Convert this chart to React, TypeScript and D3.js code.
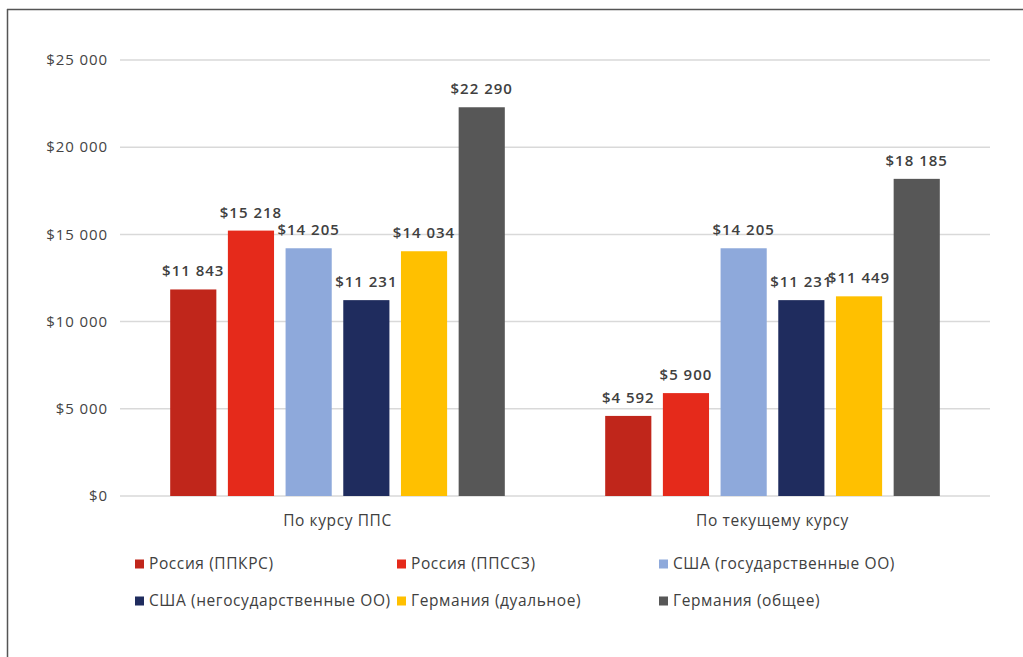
import React from "react";
import * as d3 from "d3";

const categories = ["По курсу ППС", "По текущему курсу"];
const seriesNames = [
  "Россия (ППКРС)",
  "Россия (ППССЗ)",
  "США (государственные ОО)",
  "США (негосударственные ОО)",
  "Германия (дуальное)",
  "Германия (общее)",
];
const seriesColors = ["#C0261B", "#E52A1B", "#8EA9DB", "#1F2C5E", "#FFC000", "#575757"];
const valuesPPP = [11843, 15218, 14205, 11231, 14034, 22290];
const valuesCurrent = [4592, 5900, 14205, 11231, 11449, 18185];
const yTicks = [0, 5000, 10000, 15000, 20000, 25000];

const W = 1023;
const H = 657;
const M = { left: 120, right: 990, top: 60, bottom: 496 };

const fmt = (v: number) => {
  const s = String(v);
  const parts: string[] = [];
  let rest = s;
  while (rest.length > 3) {
    parts.unshift(rest.slice(-3));
    rest = rest.slice(0, -3);
  }
  parts.unshift(rest);
  return "$" + parts.join(" ");
};

export default function App() {
  const y = d3.scaleLinear().domain([0, 25000]).range([M.bottom, M.top]);
  const x0 = d3.scaleBand<string>().domain(categories).range([M.left, M.right]).padding(0);
  const x1 = d3
    .scaleBand<string>()
    .domain(seriesNames)
    .range([0, x0.bandwidth()])
    .paddingInner(0.2)
    .paddingOuter(0.87);
  const data = [valuesPPP, valuesCurrent];
  const font = "'Open Sans', sans-serif";
  const legendCols = [135, 397, 659];
  const legendRows = [564, 601];

  return (
    <svg
      width={W}
      height={H}
      style={{ position: "absolute", left: 0, top: 0, background: "#fff" }}
      fontFamily={font}
    >
      <rect x={0} y={0} width={W} height={H} fill="#fff" />
      <line x1={7} y1={9.5} x2={W} y2={9.5} stroke="#555" strokeWidth={1.5} />
      <line x1={7.5} y1={9} x2={7.5} y2={H} stroke="#555" strokeWidth={1.5} />
      {yTicks.map((t) => (
        <g key={t}>
          <line x1={M.left} x2={M.right} y1={y(t)} y2={y(t)} stroke="#D9D9D9" strokeWidth={1.5} />
          <text
            x={108}
            y={y(t)}
            dy="0.35em"
            textAnchor="end"
            fontSize={15}
            fill="#444"
            letterSpacing={0.9}
          >
            {fmt(t)}
          </text>
        </g>
      ))}
      {categories.map((c, ci) => (
        <g key={c} transform={`translate(${x0(c)},0)`}>
          {seriesNames.map((s, si) => {
            const v = data[ci][si];
            const bx = x1(s)!;
            const bw = x1.bandwidth();
            return (
              <g key={s}>
                <rect x={bx} y={y(v)} width={bw} height={y(0) - y(v)} fill={seriesColors[si]} />
                <text
                  x={bx + bw / 2}
                  y={y(v) - 13}
                  textAnchor="middle"
                  fontSize={15}
                  fontWeight={600}
                  fill="#404040"
                  letterSpacing={1}
                >
                  {fmt(v)}
                </text>
              </g>
            );
          })}
          <text
            x={x0.bandwidth() / 2}
            y={521}
            dy="0.35em"
            textAnchor="middle"
            fontSize={15.5}
            fill="#404040"
            letterSpacing={0.6}
          >
            {c}
          </text>
        </g>
      ))}
      {seriesNames.map((s, i) => {
        const cx = legendCols[i % 3];
        const cy = legendRows[Math.floor(i / 3)];
        return (
          <g key={s}>
            <rect x={cx} y={cy - 4.5} width={9} height={9} fill={seriesColors[i]} />
            <text
              x={cx + 14}
              y={cy}
              dy="0.35em"
              fontSize={15.5}
              fill="#404040"
              letterSpacing={0.6}
            >
              {s}
            </text>
          </g>
        );
      })}
    </svg>
  );
}
